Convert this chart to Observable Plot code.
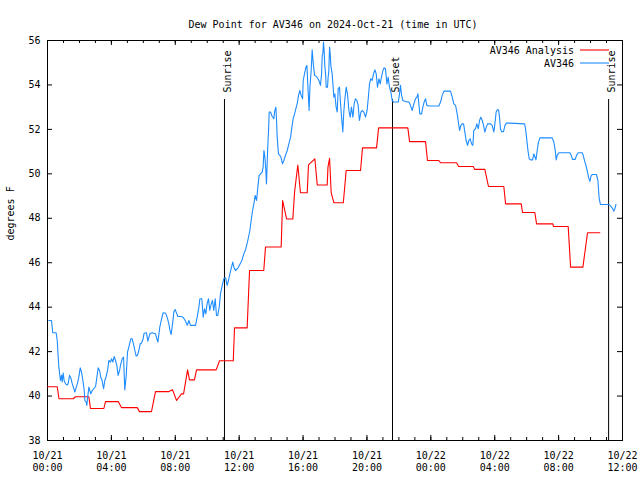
<!DOCTYPE html>
<html>
<head>
<meta charset="utf-8">
<script src="https://cdn.jsdelivr.net/npm/d3@7"></script>
<script src="https://cdn.jsdelivr.net/npm/@observablehq/plot@0.6"></script>
<style>
  body { margin: 0; background: #fff; }
  svg { display: block; }
</style>
</head>
<body>
<div id="chart"></div>
<script>
const title = "Dew Point for AV346 on 2024-Oct-21 (time in UTC)";
const yLabel = "degrees F";
const seriesNames = ["AV346 Analysis", "AV346"];
const seriesColors = ["#ff0000", "#1e8cff"];

// [hours since 2024-10-21 00:00 UTC, dew point °F]
const av346Analysis = [
  [0,40.42],[0.61,40.42],[0.72,39.88],[1.61,39.88],[1.75,39.97],[2.59,39.97],[2.69,39.44],[3.53,39.44],
  [3.63,39.75],[4.43,39.75],[4.63,39.48],[5.62,39.48],[5.76,39.3],[6.51,39.3],[6.76,40.2],[7.6,40.2],
  [7.83,40.28],[8.08,39.8],[8.39,40.1],[8.52,40.1],[8.77,41.18],[8.89,40.73],[9.2,40.73],[9.33,41.18],
  [10.56,41.18],[10.77,41.59],[11.63,41.59],[11.71,43.07],[12.5,43.07],[12.65,45.65],[13.54,45.65],
  [13.65,46.71],[14.63,46.71],[14.72,48.8],[14.97,47.97],[15.36,47.97],[15.47,49.18],[15.67,50.4],
  [15.84,49.15],[16.26,49.15],[16.34,50.4],[16.74,50.67],[16.89,49.5],[17.51,49.5],[17.56,50.3],
  [17.66,50.7],[17.76,49.15],[17.93,48.7],[18.52,48.7],[18.7,50.15],[19.6,50.15],[19.72,51.17],
  [20.6,51.17],[20.73,52.07],[22.56,52.07],[22.67,51.45],[23.67,51.45],[23.79,50.6],[24.5,50.6],
  [24.61,50.5],[25.61,50.5],[25.74,50.33],[26.66,50.33],[26.74,50.2],[27.38,50.2],[27.61,49.43],
  [28.57,49.43],[28.68,48.65],[29.66,48.65],[29.74,48.26],[30.51,48.26],[30.62,47.75],[31.64,47.75],
  [31.68,47.63],[32.6,47.63],[32.75,45.8],[33.52,45.8],[33.81,47.35],[34.58,47.35]
];

const av346Obs = [
  [0.08,43.4],[0.25,43.4],[0.33,42.85],[0.54,42.85],[0.61,42.5],[0.67,41.75],[0.71,41.3],[0.81,40.7],
  [0.88,40.93],[0.92,40.63],[0.98,41.03],[1.04,40.7],[1.13,40.55],[1.23,40.5],[1.29,40.55],[1.38,40.93],
  [1.46,40.82],[1.54,40.58],[1.65,40.33],[1.71,40.18],[1.8,40.4],[1.88,40.58],[1.96,40.85],[2.05,41.27],
  [2.13,41.08],[2.21,40.73],[2.3,40.25],[2.34,39.8],[2.42,39.73],[2.46,39.58],[2.53,40.03],[2.59,40.4],
  [2.65,40.25],[2.71,40.1],[2.8,40.25],[2.9,40.33],[3.01,40.43],[3.07,40.73],[3.17,41.27],[3.26,41.15],
  [3.34,40.82],[3.42,40.7],[3.51,40.33],[3.59,40.7],[3.67,40.88],[3.76,41.15],[3.84,41.6],[3.94,41.53],
  [4.01,41.68],[4.09,41.53],[4.17,41.78],[4.26,41.6],[4.34,41.38],[4.42,40.93],[4.51,41.15],[4.59,41.45],
  [4.68,41.68],[4.76,41.75],[4.84,40.28],[4.93,40.93],[5.01,41.98],[5.09,42.2],[5.22,42.58],[5.3,42.58],
  [5.38,42.35],[5.47,42.05],[5.55,41.8],[5.63,41.83],[5.72,42.05],[5.8,42.35],[5.88,42.38],[5.97,42.53],
  [6.05,42.83],[6.2,42.85],[6.28,42.47],[6.41,42.8],[6.55,42.85],[6.76,42.8],[6.91,42.43],[7.03,43.1],
  [7.12,43.4],[7.24,43.75],[7.39,43.73],[7.49,43.55],[7.6,43.25],[7.66,42.98],[7.74,42.77],[7.83,43.25],
  [7.91,43.78],[7.99,43.9],[8.08,43.73],[8.16,43.58],[8.33,43.58],[8.49,43.55],[8.62,43.4],[8.75,43.18],
  [8.85,43.4],[8.95,43.18],[9.06,43.18],[9.27,43.18],[9.37,43.55],[9.48,44.0],[9.54,44.38],[9.66,44.38],
  [9.75,43.55],[9.83,43.93],[9.91,43.7],[9.99,44.15],[10.08,44.38],[10.16,43.85],[10.25,44.15],[10.33,44.3],
  [10.41,43.85],[10.5,44.38],[10.58,43.63],[10.66,43.63],[10.75,44.0],[10.83,44.6],[10.94,44.98],[11.04,45.28],
  [11.15,45.32],[11.25,44.98],[11.33,45.2],[11.42,45.5],[11.52,45.8],[11.6,46.03],[11.67,45.8],[11.77,45.65],
  [11.92,45.76],[12.04,45.92],[12.17,46.1],[12.29,46.4],[12.42,46.63],[12.54,47.0],[12.67,47.45],[12.75,47.9],
  [12.84,48.35],[12.92,48.65],[13.0,49.03],[13.09,48.8],[13.17,49.4],[13.25,49.93],[13.34,50.0],[13.44,50.08],
  [13.5,50.3],[13.55,51.05],[13.61,50.75],[13.67,50.15],[13.71,49.55],[13.78,51.05],[13.84,51.95],[13.88,52.78],
  [13.96,52.78],[14.07,52.58],[14.17,52.48],[14.23,52.85],[14.3,53.0],[14.34,52.4],[14.38,51.65],[14.46,50.9],
  [14.55,50.83],[14.63,50.72],[14.71,50.45],[14.8,50.6],[14.9,50.83],[15.01,51.05],[15.11,51.35],[15.22,51.65],
  [15.3,52.1],[15.38,52.48],[15.47,52.7],[15.55,52.93],[15.63,53.15],[15.72,53.53],[15.8,53.75],[15.88,53.53],
  [15.97,53.38],[16.01,54.2],[16.09,54.5],[16.18,54.8],[16.24,54.88],[16.3,53.98],[16.38,52.85],[16.43,53.9],
  [16.51,54.65],[16.57,55.58],[16.64,54.95],[16.72,54.43],[16.84,54.38],[16.97,54.23],[17.03,54.13],[17.09,53.98],
  [17.16,54.5],[17.2,55.33],[17.24,55.4],[17.28,55.93],[17.32,55.55],[17.36,54.88],[17.41,54.5],[17.45,53.9],
  [17.53,53.9],[17.57,54.35],[17.61,54.58],[17.66,55.7],[17.7,55.4],[17.74,54.88],[17.82,54.5],[17.87,54.05],
  [17.93,53.45],[17.99,53.6],[18.07,53.0],[18.14,52.78],[18.2,53.83],[18.28,53.9],[18.35,53.15],[18.41,52.55],
  [18.45,52.25],[18.49,51.88],[18.55,52.78],[18.62,53.38],[18.7,53.9],[18.78,53.6],[18.87,52.85],[18.95,52.55],
  [19.03,53.0],[19.12,52.55],[19.2,53.15],[19.28,53.38],[19.37,53.3],[19.45,53.08],[19.53,52.4],[19.62,52.78],
  [19.7,52.85],[19.81,52.78],[19.91,52.55],[20.01,52.85],[20.08,53.38],[20.16,54.05],[20.24,54.28],[20.33,54.2],
  [20.41,54.5],[20.5,54.68],[20.58,54.5],[20.66,53.9],[20.75,54.28],[20.83,54.05],[20.91,54.35],[21.0,54.65],
  [21.08,54.77],[21.16,54.73],[21.25,54.05],[21.33,54.35],[21.41,53.9],[21.5,53.68],[21.58,53.3],[21.68,53.23],
  [21.79,53.23],[21.96,53.23],[22.04,53.6],[22.1,53.98],[22.17,53.53],[22.25,53.3],[22.42,53.25],[22.63,53.23],
  [22.73,53.08],[22.83,52.85],[22.94,53.15],[23.04,53.38],[23.13,53.45],[23.19,53.6],[23.25,53.15],[23.31,52.7],
  [23.42,52.7],[23.5,53.0],[23.58,53.23],[23.67,53.38],[23.75,53.08],[23.88,53.05],[24.5,53.05],[24.61,53.23],
  [24.71,53.53],[24.82,53.72],[25.23,53.72],[25.34,53.45],[25.44,53.15],[25.55,53.08],[25.65,52.7],[25.71,52.4],
  [25.8,51.95],[25.88,52.18],[25.96,52.25],[26.05,52.25],[26.13,51.88],[26.21,51.5],[26.3,51.28],[26.38,51.5],
  [26.46,51.58],[26.55,51.35],[26.63,51.28],[26.69,51.95],[26.8,52.03],[26.88,52.25],[26.97,52.03],[27.05,52.4],
  [27.13,52.55],[27.22,52.4],[27.3,52.18],[27.38,51.88],[27.47,52.1],[27.55,52.25],[27.74,52.25],[27.84,52.18],
  [27.95,51.88],[28.01,52.25],[28.09,52.78],[28.16,52.88],[28.24,52.88],[28.3,52.55],[28.36,52.03],[28.43,51.9],
  [28.55,51.9],[28.64,52.18],[28.72,52.28],[28.99,52.28],[29.87,52.25],[29.93,52.03],[29.99,51.65],[30.08,51.05],
  [30.16,50.68],[30.24,50.63],[30.37,50.63],[30.45,50.9],[30.51,50.78],[30.58,50.63],[30.66,51.05],[30.74,51.43],
  [30.83,51.62],[31.6,51.62],[31.7,51.43],[31.79,51.05],[31.85,50.63],[31.91,50.83],[32.02,50.95],[32.71,50.95],
  [32.79,50.83],[32.87,50.65],[33.04,50.65],[33.12,50.83],[33.23,50.95],[33.48,50.95],[33.54,50.83],[33.62,50.6],
  [33.71,50.38],[33.79,50.15],[33.87,49.85],[33.96,49.66],[34.04,49.93],[34.12,49.97],[34.37,49.97],[34.46,49.7],
  [34.5,49.28],[34.54,48.88],[34.62,48.62],[35.17,48.62],[35.35,48.47],[35.46,48.32],[35.54,48.47],[35.59,48.62]
];

const eventHours = [11.08, 21.6, 35.13];
const eventLabels = ["Sunrise", "Sunset", "Sunrise"];

const xTickHours = [0, 4, 8, 12, 16, 20, 24, 28, 32, 36];
const xTickLabels = ["10/21\n00:00", "10/21\n04:00", "10/21\n08:00", "10/21\n12:00", "10/21\n16:00",
                     "10/21\n20:00", "10/22\n00:00", "10/22\n04:00", "10/22\n08:00", "10/22\n12:00"];
const xMinorHours = [0,1,2,3,4,5,6,7,8,9,10,11,12,13,14,15,16,17,18,19,20,21,22,23,24,25,26,27,28,29,30,31,32,33,34,35,36];
const yTicks = [38, 40, 42, 44, 46, 48, 50, 52, 54, 56];

const W = 640, H = 480;
const mL = 47, mR = 18, mT = 40, mB = 40;
const fw = W - mL - mR, fh = H - mT - mB;
const majorLen = 5, minorLen = 3;

const events = eventHours.map((h, i) => ({time: h, label: eventLabels[i]}));

const plot = Plot.plot({
  width: W, height: H,
  marginLeft: mL, marginRight: mR, marginTop: mT, marginBottom: mB,
  style: {fontFamily: "'DejaVu Sans Mono', monospace", fontSize: "10px", background: "#fff", color: "#000"},
  x: {type: "linear", domain: [0, 36]},
  y: {type: "linear", domain: [38, 56]},
  marks: [
    Plot.frame({stroke: "#000"}),
    // inward ticks on all sides
    Plot.ruleX(xMinorHours, {x: d => d, insetTop: fh - minorLen, stroke: "#000"}),
    Plot.ruleX(xMinorHours, {x: d => d, insetBottom: fh - minorLen, stroke: "#000"}),
    Plot.ruleX(xTickHours, {x: d => d, insetTop: fh - majorLen, stroke: "#000"}),
    Plot.ruleX(xTickHours, {x: d => d, insetBottom: fh - majorLen, stroke: "#000"}),
    Plot.ruleY(yTicks, {y: d => d, insetRight: fw - majorLen, stroke: "#000"}),
    Plot.ruleY(yTicks, {y: d => d, insetLeft: fw - majorLen, stroke: "#000"}),
    Plot.axisX(xTickHours, {tickSize: 0, tickPadding: 10, lineHeight: 1.2,
      tickFormat: d => xTickLabels[xTickHours.indexOf(d)], label: null}),
    Plot.axisY(yTicks, {tickSize: 0, tickPadding: 7, label: null}),
    Plot.text([yLabel], {frameAnchor: "left", dx: -37, rotate: -90}),
    Plot.text([title], {frameAnchor: "top", dy: -20, dx: -2}),
    // sunrise / sunset markers
    Plot.ruleX(events, {x: "time", insetTop: 59, stroke: "#000"}),
    Plot.text(events, {x: "time", text: "label", frameAnchor: "top", dy: 52, dx: -1, rotate: -90, textAnchor: "start"}),
    // series
    Plot.line(av346Analysis, {x: d => d[0], y: d => d[1], stroke: seriesColors[0], strokeWidth: 1.1}),
    Plot.line(av346Obs, {x: d => d[0], y: d => d[1], stroke: seriesColors[1], strokeWidth: 1.1})
  ]
});

// in-frame legend, top right (gnuplot style)
const svg = d3.select(plot);
const legendRight = W - mR - 48;
seriesNames.forEach((name, i) => {
  const yc = mT + 9.5 + i * 13;
  svg.append("text")
    .attr("x", legendRight).attr("y", yc + 4)
    .attr("text-anchor", "end")
    .attr("font-family", "'DejaVu Sans Mono', monospace")
    .attr("font-size", 10)
    .attr("fill", "#000")
    .text(name);
  svg.append("line")
    .attr("x1", legendRight + 6).attr("x2", legendRight + 35)
    .attr("y1", yc + 0.5).attr("y2", yc + 0.5)
    .attr("stroke", seriesColors[i]).attr("stroke-width", 1.1);
});

document.getElementById("chart").append(plot);
</script>
</body>
</html>
